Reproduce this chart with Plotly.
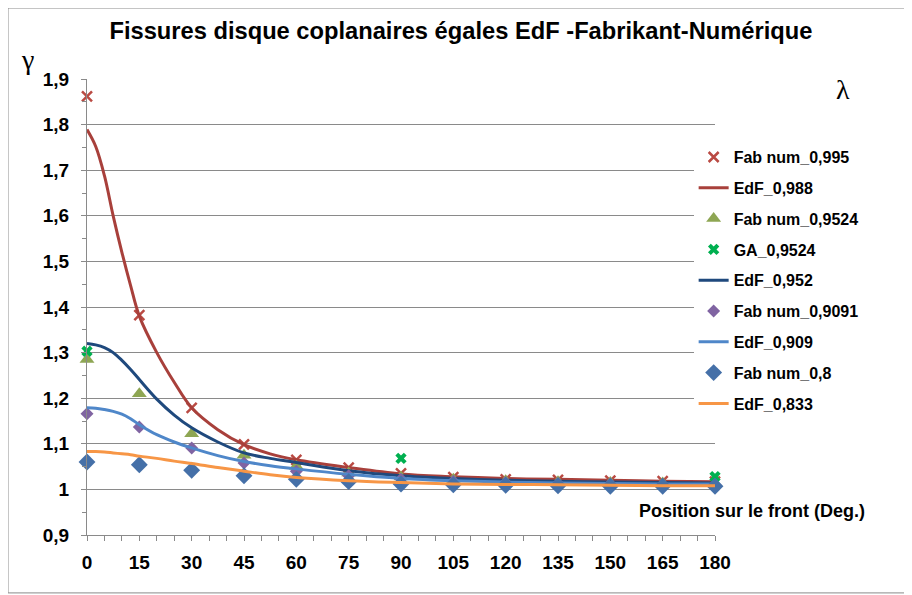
import plotly.graph_objects as go

# Angular positions (deg) for the numerical points
deg_pts = [0, 15, 30, 45, 60, 75, 90, 105, 120, 135, 150, 165, 180]
# Angular positions (deg) where the EdF curves were read
deg_curve = [0, 2.5, 5, 7.5, 10, 12.5, 15, 20, 25, 30, 37.5, 45, 52.5, 60,
             75, 90, 105, 120, 135, 150, 165, 180]

fab_0995 = [1.862, 1.382, 1.179, 1.099, 1.065, 1.048, 1.035, 1.027, 1.022, 1.021, 1.019, 1.018, 1.017]
fab_09524 = [1.285, 1.210, 1.122, 1.075, 1.051, 1.036, 1.027, 1.022, 1.019, 1.017, 1.015, 1.014, 1.013]
fab_09091 = [1.166, 1.137, 1.091, 1.058, 1.040, 1.030, 1.022, 1.018, 1.015, 1.013, 1.012, 1.011, 1.010]
fab_08 = [1.060, 1.054, 1.042, 1.030, 1.022, 1.017, 1.012, 1.010, 1.009, 1.008, 1.007, 1.007, 1.007]

ga_deg = [0, 90, 180]
ga_09524 = [1.303, 1.068, 1.028]

edf_0988 = [1.789, 1.752, 1.688, 1.600, 1.520, 1.447, 1.380, 1.300, 1.235, 1.179, 1.131, 1.098,
            1.078, 1.065, 1.048, 1.034, 1.028, 1.024, 1.022, 1.020, 1.018, 1.017]
edf_0952 = [1.320, 1.317, 1.311, 1.300, 1.283, 1.263, 1.241, 1.198, 1.163, 1.135, 1.104, 1.080,
            1.068, 1.059, 1.041, 1.030, 1.024, 1.020, 1.018, 1.016, 1.015, 1.014]
edf_0909 = [1.179, 1.178, 1.175, 1.171, 1.165, 1.155, 1.142, 1.120, 1.104, 1.091, 1.074, 1.061,
            1.052, 1.045, 1.033, 1.024, 1.019, 1.016, 1.014, 1.013, 1.012, 1.012]
edf_0833 = [1.083, 1.083, 1.082, 1.080, 1.078, 1.076, 1.073, 1.068, 1.062, 1.057, 1.048, 1.040,
            1.032, 1.026, 1.019, 1.015, 1.012, 1.011, 1.010, 1.009, 1.008, 1.008]

FONT = "Liberation Sans, Arial, sans-serif"
GRID = "#8a8a8a"

fig = go.Figure()


def add_points(x, y, name, symbol, color, size, lw=0):
    fig.add_trace(go.Scatter(
        x=x, y=y, name=name, mode='markers', legendgroup=name, cliponaxis=False,
        marker=dict(symbol=symbol, color=color, size=size,
                    line=dict(color=color, width=lw)),
    ))


def add_curve(y, name, color):
    fig.add_trace(go.Scatter(
        x=deg_curve, y=y, name=name, mode='lines', legendgroup=name, cliponaxis=False,
        line=dict(color=color, width=3, shape='spline', smoothing=1.0),
    ))


add_points(deg_pts, fab_0995, 'Fab num_0,995', 'x-thin', '#BA4A43', 10, 2.5)
add_curve(edf_0988, 'EdF_0,988', '#A8403B')
add_points(deg_pts, fab_09524, 'Fab num_0,9524', 'triangle-up', '#8EA653', 13)
add_points(ga_deg, ga_09524, 'GA_0,9524', 'x', '#00B050', 10)
add_curve(edf_0952, 'EdF_0,952', '#1F497D')
add_points(deg_pts, fab_09091, 'Fab num_0,9091', 'diamond', '#8064A2', 10)
add_curve(edf_0909, 'EdF_0,909', '#4F87C9')
add_points(deg_pts, fab_08, 'Fab num_0,8', 'diamond', '#4570A8', 13)
add_curve(edf_0833, 'EdF_0,833', '#F79646')

fig.update_xaxes(
    range=[0, 180], tickvals=deg_pts, showgrid=False, zeroline=False,
    showline=True, linecolor=GRID, linewidth=1,
    ticks='outside', ticklen=5, tickcolor=GRID, ticklabelstandoff=5,
    minor=dict(dtick=5, ticks='outside', ticklen=5, tickcolor=GRID, showgrid=False),
    tickfont=dict(family=FONT, size=19, color='black', weight='bold'),
)
fig.update_yaxes(
    range=[0.9, 1.9], dtick=0.1, tick0=0.9, showgrid=True, gridcolor=GRID, gridwidth=1,
    zeroline=False, showline=True, linecolor=GRID, linewidth=1,
    ticks='outside', ticklen=5, tickcolor=GRID, ticklabelstandoff=8,
    minor=dict(dtick=0.05, ticks='outside', ticklen=4, tickcolor=GRID, showgrid=False),
    tickfont=dict(family=FONT, size=19, color='black', weight='bold'),
)

# the page adds an 8px body margin, so the figure is 8px smaller on each side
fig.update_layout(
    width=904, height=587,
    margin=dict(l=79, r=197, t=71, b=60),
    paper_bgcolor='white', plot_bgcolor='white',
    separators=', ',
    title=dict(text='Fissures disque coplanaires égales EdF -Fabrikant-Numérique',
               x=0.501, xanchor='center', y=0.962, yanchor='middle',
               font=dict(family=FONT, size=23.7, color='black', weight='bold')),
    legend=dict(x=0.966, xanchor='left', y=0.866, yanchor='top',
                bgcolor='white', tracegroupgap=7,
                font=dict(family=FONT, size=16, color='black', weight='bold')),
    annotations=[
        dict(text='γ', x=-0.095, y=1.043, xref='paper', yref='paper', showarrow=False,
             xanchor='center', yanchor='middle',
             font=dict(family='Liberation Serif, serif', size=28, color='black')),
        dict(text='λ', x=1.204, y=0.976, xref='paper', yref='paper', showarrow=False,
             xanchor='center', yanchor='middle',
             font=dict(family='Liberation Serif, serif', size=28, color='black')),
        dict(text='Position sur le front (Deg.)', x=1.059, y=0.0526, xref='paper', yref='paper',
             showarrow=False, xanchor='center', yanchor='middle',
             font=dict(family=FONT, size=18, color='black', weight='bold')),
    ],
    shapes=[
        dict(type='rect', xref='paper', yref='paper', x0=-0.1258, x1=1.3025, y0=-0.127, y1=1.1557,
             line=dict(color=GRID, width=1), layer='below'),
    ],
)

fig.write_html("out.html")
